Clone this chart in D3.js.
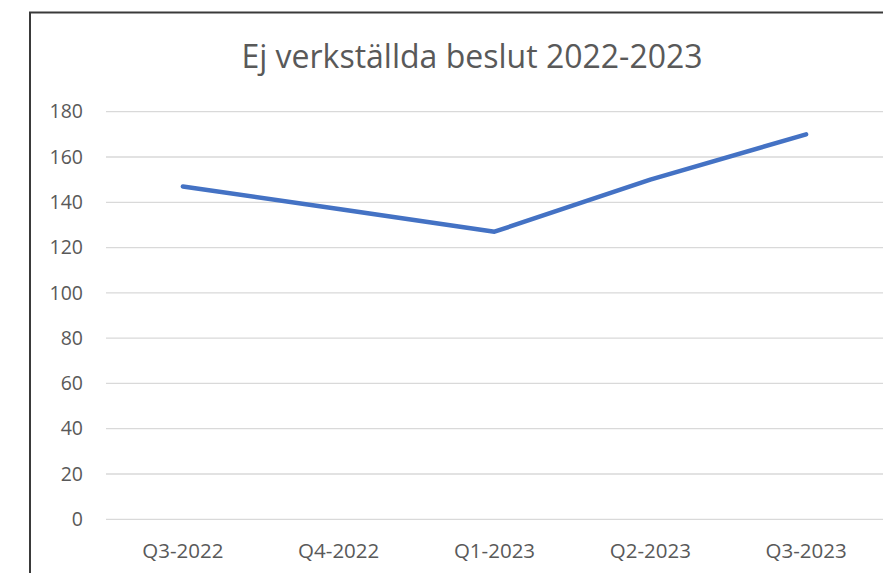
<!DOCTYPE html>
<html>
<head>
<meta charset="utf-8">
<script src="https://cdn.jsdelivr.net/npm/d3@7"></script>
<style>
  html, body { margin: 0; padding: 0; background: #fff; overflow: hidden; }
  svg { display: block; }
</style>
</head>
<body>
<svg id="chart" width="883" height="573"></svg>
<script>
const title = "Ej verkställda beslut 2022-2023";
const categories = ["Q3-2022", "Q4-2022", "Q1-2023", "Q2-2023", "Q3-2023"];
const values = [147, 137, 127, 150, 170];
const yTicks = [0, 20, 40, 60, 80, 100, 120, 140, 160, 180];

const W = 883, H = 573;
const svg = d3.select("#chart");
const font = "'Open Sans', Lato, sans-serif";
const textColor = "#595959";

// outer chart border (extends beyond the window right/bottom)
svg.append("rect")
  .attr("x", 30).attr("y", 12.5)
  .attr("width", 900).attr("height", 700)
  .attr("fill", "#fff")
  .attr("stroke", "#3a3a3a").attr("stroke-width", 2);

const x = d3.scaleBand().domain(categories).range([105, 884]);
const y = d3.scaleLinear().domain([0, 180]).range([519.3, 111.7]);
const cx = d => x(d) + x.bandwidth() / 2;

// gridlines
svg.append("g").selectAll("line").data(yTicks).join("line")
  .attr("x1", 106).attr("x2", W)
  .attr("y1", d => y(d)).attr("y2", d => y(d))
  .attr("stroke", "#d9d9d9").attr("stroke-width", 1.3);

// y axis labels
const yAxis = d3.axisLeft(y).tickValues(yTicks).tickSize(0).tickPadding(0);
const gy = svg.append("g").attr("transform", "translate(83,0)").call(yAxis);
gy.select(".domain").remove();
gy.selectAll("text")
  .attr("font-family", font).attr("font-size", 19.5)
  .attr("fill", textColor);

// x axis labels
const xAxis = d3.axisBottom(x).tickSize(0).tickPadding(0);
const gx = svg.append("g").call(xAxis);
gx.select(".domain").remove();
gx.selectAll("text")
  .attr("font-family", font).attr("font-size", 20.5)
  .attr("fill", textColor)
  .attr("y", 558).attr("dy", null);

// line
const line = d3.line().x((d, i) => cx(categories[i])).y(d => y(d));
svg.append("path").datum(values)
  .attr("d", line)
  .attr("fill", "none")
  .attr("stroke", "#4472c4")
  .attr("stroke-width", 4.5)
  .attr("stroke-linecap", "round")
  .attr("stroke-linejoin", "round");

// title
svg.append("text")
  .attr("x", 472).attr("y", 67.5)
  .attr("text-anchor", "middle")
  .attr("font-family", font).attr("font-size", 32)
  .attr("fill", textColor)
  .text(title);
</script>
</body>
</html>
